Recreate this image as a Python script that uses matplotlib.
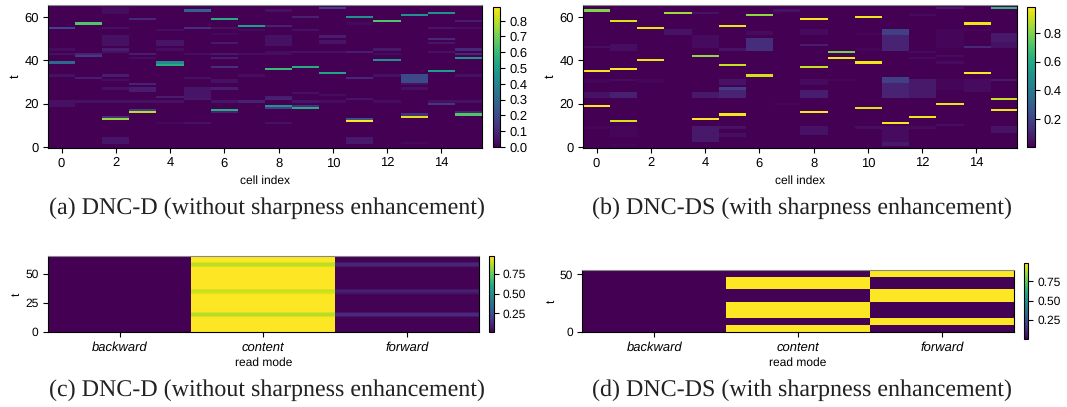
"""
plot.py
read weights of DNC-D / DNC-DS: four heatmaps with colorbars
"""

import numpy as np
from matplotlib import pyplot as plt

plt.rcParams["font.family"] = ["Liberation Sans", "DejaVu Sans"]
plt.rcParams["text.hinting"] = "no_hinting"
plt.rcParams["text.hinting_factor"] = 1

cell_labels = [0, 2, 4, 6, 8, 10, 12, 14]
mode_labels = ["backward", "content", "forward"]
n_cells = 16
n_t_top = 66

# (cell, t, value) : the bright strokes
peaks_a = [
    (0, 39, 0.30), (0, 55, 0.18), (1, 57, 0.65), (1, 42, 0.15), (2, 13, 0.75), (2, 14, 0.12),
    (3, 16, 0.80), (3, 17, 0.16), (4, 39, 0.42), (4, 38, 0.55), (5, 63, 0.28), (5, 55, 0.12),
    (6, 59, 0.55), (6, 17, 0.55), (6, 16, 0.08), (6, 37, 0.12), (7, 56, 0.50), (7, 21, 0.08),
    (8, 36, 0.60), (8, 19, 0.45), (8, 18, 0.16), (8, 22, 0.08), (9, 37, 0.55), (9, 18, 0.55),
    (9, 19, 0.12), (9, 60, 0.08), (10, 34, 0.52), (10, 64, 0.16), (11, 60, 0.45), (11, 12, 0.89),
    (11, 13, 0.22), (11, 32, 0.10), (12, 58, 0.65), (12, 40, 0.45), (13, 61, 0.45), (13, 14, 0.85),
    (13, 15, 0.12), (14, 62, 0.45), (14, 35, 0.50), (14, 20, 0.14), (14, 50, 0.10), (15, 41, 0.45),
    (15, 45, 0.10), (15, 43, 0.10), (15, 15, 0.65), (15, 16, 0.08), (15, 58, 0.07),
]
# (cell, t from, t to, value) : the faint bands
bands_a = [
    (0, 19, 21, 0.04), (0, 43, 43, 0.04), (0, 45, 45, 0.03), (0, 33, 33, 0.04),
    (1, 32, 32, 0.07), (1, 21, 21, 0.04), (1, 43, 43, 0.08),
    (2, 2, 4, 0.05), (2, 33, 33, 0.07), (2, 31, 31, 0.03), (2, 27, 27, 0.04), (2, 21, 21, 0.04),
    (2, 45, 45, 0.07), (2, 44, 44, 0.04), (2, 55, 55, 0.04), (2, 47, 51, 0.04), (2, 62, 64, 0.03),
    (3, 26, 27, 0.07), (3, 29, 29, 0.09), (3, 43, 43, 0.07), (3, 59, 59, 0.10), (3, 21, 21, 0.04),
    (3, 41, 41, 0.03),
    (4, 23, 23, 0.07), (4, 21, 21, 0.04), (4, 47, 49, 0.05), (4, 45, 45, 0.03), (4, 54, 54, 0.03),
    (4, 11, 11, 0.02),
    (5, 11, 11, 0.04), (5, 23, 27, 0.05), (5, 22, 22, 0.06), (5, 32, 32, 0.04), (5, 43, 43, 0.03),
    (6, 41, 41, 0.07), (6, 43, 43, 0.06), (6, 48, 48, 0.06), (6, 27, 27, 0.07), (6, 30, 31, 0.04),
    (6, 21, 21, 0.05), (6, 55, 55, 0.04), (6, 52, 52, 0.02),
    (7, 43, 43, 0.03), (7, 33, 33, 0.03), (7, 54, 54, 0.03),
    (8, 23, 23, 0.07), (8, 56, 56, 0.08), (8, 63, 63, 0.04), (8, 47, 51, 0.04), (8, 11, 11, 0.04),
    (8, 43, 44, 0.03),
    (9, 21, 21, 0.05), (9, 25, 25, 0.04), (9, 54, 54, 0.04), (9, 44, 44, 0.04),
    (10, 51, 51, 0.07), (10, 48, 49, 0.05), (10, 44, 44, 0.04), (10, 21, 21, 0.03), (10, 24, 24, 0.03),
    (11, 44, 44, 0.07), (11, 22, 22, 0.05), (11, 2, 4, 0.06), (11, 57, 57, 0.02),
    (12, 45, 45, 0.06), (12, 21, 21, 0.03), (12, 33, 33, 0.04), (12, 43, 43, 0.03),
    (13, 30, 33, 0.20), (13, 27, 27, 0.04), (13, 2, 2, 0.02), (13, 29, 29, 0.04),
    (14, 55, 55, 0.05), (14, 44, 44, 0.04), (14, 21, 21, 0.04), (14, 48, 48, 0.05),
    (15, 33, 33, 0.04), (15, 21, 21, 0.04), (15, 55, 55, 0.03),
]

peaks_b = [
    (0, 63, 0.80), (0, 35, 0.97), (0, 19, 0.98), (1, 58, 0.93), (1, 36, 0.98), (1, 12, 0.92),
    (2, 55, 0.95), (2, 40, 0.95), (3, 62, 0.85), (4, 42, 0.82), (4, 13, 0.98), (5, 56, 0.95),
    (5, 38, 0.90), (5, 15, 0.97), (6, 61, 0.82), (6, 33, 0.92), (8, 59, 0.97), (8, 37, 0.90),
    (8, 16, 0.98), (9, 44, 0.78), (9, 41, 0.96), (10, 60, 0.96), (10, 39, 0.96), (10, 18, 0.93),
    (11, 11, 0.97), (12, 14, 0.96), (13, 20, 0.95), (14, 57, 0.96), (14, 34, 0.985), (15, 64, 0.65),
    (15, 22, 0.90), (15, 17, 0.96),
]
bands_b = [
    (0, 46, 46, 0.04), (0, 30, 31, 0.02), (0, 23, 25, 0.05), (0, 9, 9, 0.02),
    (1, 23, 25, 0.09), (1, 45, 47, 0.04), (1, 31, 31, 0.03), (1, 1, 1, 0.02), (1, 5, 9, 0.02),
    (2, 30, 31, 0.02),
    (3, 52, 54, 0.05),
    (4, 62, 62, 0.05), (4, 23, 25, 0.07), (4, 3, 9, 0.07), (4, 46, 51, 0.03),
    (5, 27, 27, 0.18), (5, 23, 26, 0.10), (5, 29, 31, 0.05), (5, 9, 9, 0.05), (5, 5, 6, 0.04),
    (5, 45, 45, 0.05),
    (6, 45, 50, 0.13), (6, 52, 53, 0.03),
    (7, 63, 63, 0.05), (7, 20, 20, 0.02),
    (8, 47, 47, 0.08), (8, 23, 26, 0.08), (8, 29, 31, 0.03), (8, 6, 9, 0.05), (8, 52, 54, 0.03),
    (9, 31, 31, 0.02),
    (10, 9, 9, 0.04), (10, 52, 52, 0.02), (10, 45, 45, 0.02),
    (11, 52, 54, 0.19), (11, 45, 51, 0.10), (11, 30, 32, 0.19), (11, 23, 29, 0.10), (11, 1, 2, 0.07),
    (11, 3, 9, 0.03),
    (12, 23, 31, 0.07), (12, 44, 44, 0.03), (12, 41, 41, 0.03), (12, 61, 61, 0.03), (12, 9, 9, 0.03),
    (13, 64, 64, 0.07), (13, 46, 54, 0.02), (13, 42, 42, 0.03), (13, 39, 39, 0.03), (13, 10, 10, 0.04),
    (13, 27, 31, 0.02),
    (14, 46, 46, 0.11), (14, 54, 54, 0.02), (14, 26, 31, 0.03),
    (15, 31, 31, 0.07), (15, 49, 52, 0.07), (15, 46, 48, 0.05), (15, 7, 9, 0.05),
]

# read mode weights, one value per t (t = 0 first)
content_c = [
    0.98, 0.98, 0.98, 0.98, 0.98, 0.98, 0.98, 0.98, 0.98, 0.98, 0.98, 0.98,
    0.97, 0.93, 0.87, 0.87, 0.93, 0.98, 0.98, 0.98, 0.98, 0.98, 0.98, 0.98,
    0.98, 0.98, 0.98, 0.98, 0.98, 0.98, 0.98, 0.98, 0.97, 0.93, 0.90, 0.90,
    0.93, 0.98, 0.98, 0.98, 0.98, 0.98, 0.98, 0.98, 0.98, 0.98, 0.98, 0.98,
    0.98, 0.98, 0.98, 0.98, 0.98, 0.98, 0.98, 0.97, 0.93, 0.88, 0.88, 0.93,
    0.98, 0.98, 0.98, 0.98, 0.98, 0.98,
]
forward_c = [
    0.01, 0.01, 0.01, 0.01, 0.01, 0.01, 0.01, 0.01, 0.01, 0.01, 0.01, 0.01,
    0.02, 0.06, 0.12, 0.12, 0.06, 0.01, 0.01, 0.01, 0.01, 0.01, 0.01, 0.01,
    0.01, 0.01, 0.01, 0.01, 0.01, 0.01, 0.01, 0.01, 0.02, 0.06, 0.09, 0.09,
    0.06, 0.01, 0.01, 0.01, 0.01, 0.01, 0.01, 0.01, 0.01, 0.01, 0.01, 0.01,
    0.01, 0.01, 0.01, 0.01, 0.01, 0.01, 0.01, 0.02, 0.06, 0.11, 0.11, 0.06,
    0.01, 0.01, 0.01, 0.01, 0.01, 0.01,
]
backward_c = [0.005] * 66

content_d = [
    0.99, 0.99, 0.99, 0.99, 0.99, 0.99, 0.01, 0.01, 0.01, 0.01, 0.01, 0.01,
    0.99, 0.99, 0.99, 0.99, 0.99, 0.99, 0.99, 0.99, 0.99, 0.99, 0.99, 0.99,
    0.99, 0.99, 0.01, 0.01, 0.01, 0.01, 0.01, 0.01, 0.01, 0.01, 0.01, 0.01,
    0.01, 0.99, 0.99, 0.99, 0.99, 0.99, 0.99, 0.99, 0.99, 0.99, 0.99, 0.01,
    0.01, 0.01, 0.01, 0.01, 0.01, 0.01,
]
forward_d = [
    0.01, 0.01, 0.01, 0.01, 0.01, 0.01, 0.99, 0.99, 0.99, 0.99, 0.99, 0.99,
    0.01, 0.01, 0.01, 0.01, 0.01, 0.01, 0.01, 0.01, 0.01, 0.01, 0.01, 0.01,
    0.01, 0.01, 0.99, 0.99, 0.99, 0.99, 0.99, 0.99, 0.99, 0.99, 0.99, 0.99,
    0.99, 0.01, 0.01, 0.01, 0.01, 0.01, 0.01, 0.01, 0.01, 0.01, 0.01, 0.99,
    0.99, 0.99, 0.99, 0.99, 0.99, 0.99,
]
backward_d = [0.005] * 54

captions = [
    "(a) DNC-D (without sharpness enhancement)",
    "(b) DNC-DS (with sharpness enhancement)",
    "(c) DNC-D (without sharpness enhancement)",
    "(d) DNC-DS (with sharpness enhancement)",
]

W = 1067
H = 407


def pix_axes(left, top, right, bottom):
    # 画像のピクセル座標で axes を作る
    return fig.add_axes([left / W, 1 - bottom / H, (right - left) / W, (bottom - top) / H])


def make_matrix(peaks, bands, base):
    m = np.full((n_t_top, n_cells), base)
    for cell, t0, t1, v in bands:
        m[t0:t1 + 1, cell] = v
    for cell, t, v in peaks:
        m[t, cell] = v
    return m


def heatmap(data, box, cbox, yticks, cticks, fs):
    ax = pix_axes(*box)
    im = ax.imshow(data, origin="lower", aspect="auto", cmap="viridis", interpolation="nearest")
    ax.set_yticks(yticks)
    ax.set_ylabel("t", fontsize=fs, labelpad=2)
    ax.tick_params(labelsize=fs, width=0.8, length=3.5, pad=3)
    ax.spines["top"].set_color("#888888")
    cax = pix_axes(*cbox)
    cb = fig.colorbar(im, cax=cax)
    cb.set_ticks(cticks)
    cb.ax.tick_params(labelsize=fs, width=0.8, length=3.5, pad=3)
    cb.outline.set_linewidth(0.8)
    return ax


fig = plt.figure(figsize=(W / 100, H / 100), dpi=100)

data_a = make_matrix(peaks_a, bands_a, 0.0)
data_b = make_matrix(peaks_b, bands_b, 0.002)
data_c = np.array([backward_c, content_c, forward_c]).T
data_d = np.array([backward_d, content_d, forward_d]).T

ax_a = heatmap(data_a, (48, 5, 482, 148), (493, 6.5, 500, 147), [0, 20, 40, 60],
               [0, 0.1, 0.2, 0.3, 0.4, 0.5, 0.6, 0.7, 0.8], 9.1)
ax_b = heatmap(data_b, (583, 5, 1017, 148), (1027, 6.5, 1034.5, 147), [0, 20, 40, 60],
               [0.2, 0.4, 0.6, 0.8], 9.1)
ax_c = heatmap(data_c, (47.7, 256, 478.7, 332.3), (489.3, 256, 493.7, 332.3), [0, 25, 50],
               [0.25, 0.5, 0.75], 8.6)
ax_d = heatmap(data_d, (582.3, 270, 1013.7, 332.3), (1024, 262.7, 1028.3, 338.7), [0, 50],
               [0.25, 0.5, 0.75], 8.6)

for ax in [ax_a, ax_b]:
    ax.set_xticks(cell_labels)
    ax.set_xlabel("cell index", fontsize=8.8, labelpad=4)

for ax in [ax_c, ax_d]:
    ax.set_xticks(range(len(mode_labels)))
    ax.set_xticklabels(mode_labels, style="italic", fontsize=9.6)
    ax.set_xlabel("read mode", fontsize=8.6, labelpad=3)

# キャプション
cap_x = [267, 801.5, 267, 801.5]
cap_y = [208, 208, 390, 390]
for i in range(4):
    fig.text(cap_x[i] / W, 1 - cap_y[i] / H, captions[i], family="Liberation Serif",
             fontsize=17.1, color="#222222", ha="center", va="center")

plt.savefig("out.png", dpi=100)
